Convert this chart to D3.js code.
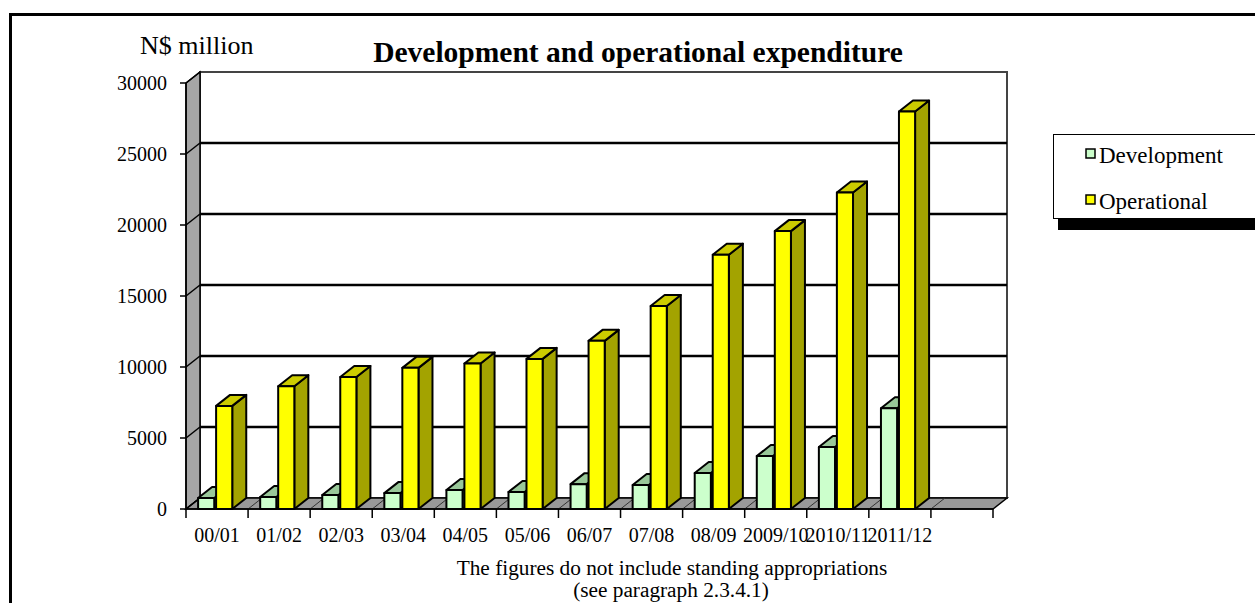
<!DOCTYPE html>
<html>
<head>
<meta charset="utf-8">
<script src="https://cdn.jsdelivr.net/npm/d3@7"></script>
<style>
  body { margin: 0; background: #fff; }
  svg text { font-family: "Liberation Serif", "Times New Roman", serif; fill: #000; }
</style>
</head>
<body>
<div id="chart"></div>
<script>
// chart data
const categories = ["00/01", "01/02", "02/03", "03/04", "04/05", "05/06", "06/07", "07/08", "08/09", "2009/10", "2010/11", "2011/12"];
const development = [770, 840, 990, 1120, 1340, 1200, 1750, 1690, 2530, 3730, 4360, 7100];
const operational = [7260, 8650, 9300, 9940, 10250, 10570, 11840, 14300, 17910, 19570, 22290, 27990];
const yTicks = [0, 5000, 10000, 15000, 20000, 25000, 30000];
const seriesNames = ["Development", "Operational"];

const width = 1255, height = 603;
const DX = 14, DY = -11; // 3d depth offset

const svg = d3.select('#chart').append('svg')
  .attr('width', width)
  .attr('height', height);

// outer frame
svg.append('rect')
  .attr('x', 10.5).attr('y', 14.5)
  .attr('width', 1400).attr('height', 800)
  .attr('fill', 'none').attr('stroke', '#000').attr('stroke-width', 3);

// one empty slot after the last category
const x = d3.scaleBand()
  .domain([...categories, ""])
  .range([186, 993])
  .padding(0);
const y = d3.scaleLinear().domain([0, 30000]).range([509, 83]);

const x0 = x.range()[0], x1 = x.range()[1];
const y0 = y(0), yTop = y(30000);
const bw = x.bandwidth();

// back wall
svg.append('rect')
  .attr('x', x0 + DX).attr('y', yTop + DY)
  .attr('width', x1 - x0).attr('height', y0 - yTop)
  .attr('fill', '#fff').attr('stroke', '#444').attr('stroke-width', 2);

// side wall
svg.append('polygon')
  .attr('points', [[x0, y0], [x0, yTop], [x0 + DX, yTop + DY], [x0 + DX, y0 + DY]].join(' '))
  .attr('fill', '#a6a6a6').attr('stroke', '#000').attr('stroke-width', 1.5);

// floor
svg.append('polygon')
  .attr('points', [[x0, y0], [x1, y0], [x1 + DX, y0 + DY], [x0 + DX, y0 + DY]].join(' '))
  .attr('fill', '#999').attr('stroke', '#000').attr('stroke-width', 1.5);

// gridlines on back wall + slants on side wall
yTicks.forEach(v => {
  if (v > 0 && v < 30000) {
    svg.append('line')
      .attr('x1', x0 + DX).attr('x2', x1 + DX)
      .attr('y1', y(v) + DY).attr('y2', y(v) + DY)
      .attr('stroke', '#000').attr('stroke-width', 2.5);
  }
  svg.append('line')
    .attr('x1', x0).attr('x2', x0 + DX)
    .attr('y1', y(v)).attr('y2', y(v) + DY)
    .attr('stroke', '#000').attr('stroke-width', 1.5);
  svg.append('line')
    .attr('x1', x0 - 6).attr('x2', x0)
    .attr('y1', y(v)).attr('y2', y(v))
    .attr('stroke', '#000').attr('stroke-width', 1.5);
  svg.append('text')
    .attr('x', 167).attr('y', y(v) + 7)
    .attr('text-anchor', 'end')
    .style('font-size', '20px')
    .text(v);
});

// front y axis line
svg.append('line')
  .attr('x1', x0).attr('x2', x0).attr('y1', y0).attr('y2', yTop)
  .attr('stroke', '#000').attr('stroke-width', 1.5);

// floor depth lines at slot boundaries
x.domain().slice(1).forEach(c => {
  svg.append('line')
    .attr('x1', x(c)).attr('x2', x(c) + DX)
    .attr('y1', y0).attr('y2', y0 + DY)
    .attr('stroke', '#333').attr('stroke-width', 1);
});

// bars drawn as 3d boxes
function box(xl, w, v, front, top, side) {
  const yt = y(v);
  const g = svg.append('g')
    .attr('stroke', '#000').attr('stroke-width', 2).attr('stroke-linejoin', 'round');
  g.append('polygon')
    .attr('points', [[xl + w, yt], [xl + w + DX, yt + DY], [xl + w + DX, y0 + DY], [xl + w, y0]].join(' '))
    .attr('fill', side);
  g.append('polygon')
    .attr('points', [[xl, yt], [xl + w, yt], [xl + w + DX, yt + DY], [xl + DX, yt + DY]].join(' '))
    .attr('fill', top);
  g.append('rect')
    .attr('x', xl).attr('y', yt)
    .attr('width', w).attr('height', y0 - yt)
    .attr('fill', front);
}

categories.forEach((c, i) => {
  box(x(c) + bw * 0.195, bw * 0.26, development[i], '#ccffcc', '#99c899', '#88b088');
  box(x(c) + bw * 0.485, bw * 0.26, operational[i], '#ffff00', '#cccc00', '#a3a300');
});

// x axis
svg.append('line')
  .attr('x1', x0).attr('x2', x1).attr('y1', y0).attr('y2', y0)
  .attr('stroke', '#000').attr('stroke-width', 1.5);
[...x.domain().map(c => x(c)), x1].forEach(t => {
  svg.append('line')
    .attr('x1', t).attr('x2', t).attr('y1', y0).attr('y2', y0 + 9)
    .attr('stroke', '#000').attr('stroke-width', 1.5);
});
svg.selectAll('.cat')
  .data(categories)
  .enter().append('text')
  .attr('class', 'cat')
  .attr('x', d => x(d) + bw / 2)
  .attr('y', 542)
  .attr('text-anchor', 'middle')
  .style('font-size', '20px')
  .text(d => d);

// titles
svg.append('text')
  .attr('x', 140).attr('y', 54)
  .style('font-size', '26px')
  .text('N$ million');
svg.append('text')
  .attr('x', 638).attr('y', 62)
  .attr('text-anchor', 'middle')
  .style('font-size', '29.5px').style('font-weight', 'bold')
  .text('Development and operational expenditure');
svg.append('text')
  .attr('x', 672).attr('y', 575)
  .attr('text-anchor', 'middle')
  .style('font-size', '21.3px')
  .text('The figures do not include standing appropriations');
svg.append('text')
  .attr('x', 671).attr('y', 597)
  .attr('text-anchor', 'middle')
  .style('font-size', '21.3px')
  .text('(see paragraph 2.3.4.1)');

// legend
const legend = svg.append('g');
legend.append('rect')
  .attr('x', 1058).attr('y', 143).attr('width', 300).attr('height', 87)
  .attr('fill', '#000');
legend.append('rect')
  .attr('x', 1053.5).attr('y', 134.5).attr('width', 300).attr('height', 84)
  .attr('fill', '#fff').attr('stroke', '#000').attr('stroke-width', 1);
const legendColors = ['#ccffcc', '#ffff00'];
seriesNames.forEach((name, i) => {
  const ly = 149 + i * 46;
  legend.append('rect')
    .attr('x', 1086).attr('y', ly).attr('width', 9).attr('height', 9)
    .attr('fill', legendColors[i]).attr('stroke', '#000').attr('stroke-width', 1.5);
  legend.append('text')
    .attr('x', 1099).attr('y', ly + 14)
    .style('font-size', '23px')
    .text(name);
});
</script>
</body>
</html>
